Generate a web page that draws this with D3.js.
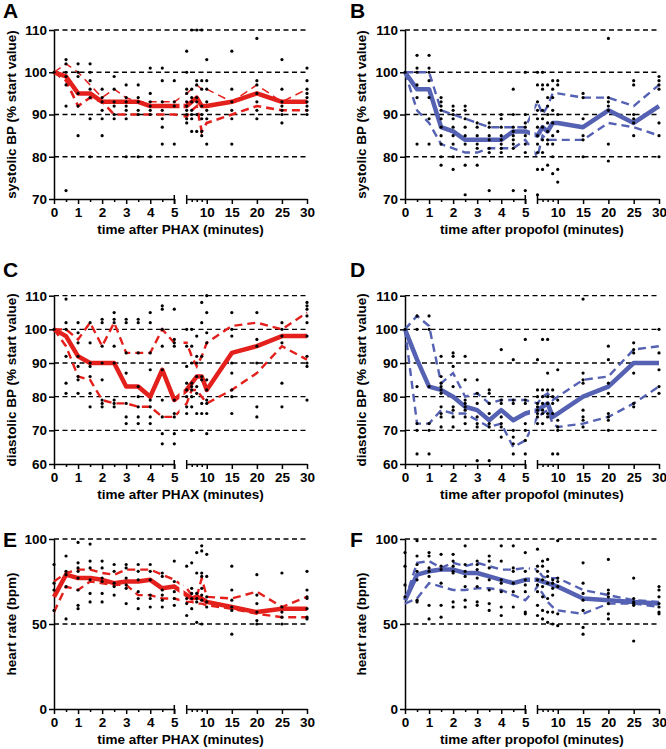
<!DOCTYPE html>
<html><head><meta charset="utf-8">
<script src="https://cdn.jsdelivr.net/npm/d3@7"></script>
<style>body{margin:0;background:#fff} text{font-family:"Liberation Sans",Arial,sans-serif;font-weight:bold;fill:#000}</style>
</head><body><svg id="c" width="666" height="749"></svg>
<script>
// ---------------- DATA ----------------
const times = [0,0.5,1,1.5,2,2.5,3,3.5,4,4.5,5,6,7,8,9,10,15,20,25,30];
const seg1Ticks = [0,1,2,3,4,5];
const seg1Minor = [0.5,1.5,2.5,3.5,4.5];
const seg2Ticks = [10,15,20,25,30];
const seg2Minor = [7,8,9];
const ticksBP1 = [70,80,90,100,110];
const ticksBP2 = [60,70,80,90,100,110];
const ticksHR = [0,50,100];
const gridBP1 = [80,90,100,110];
const gridBP2 = [70,80,90,100,110];
const gridHR = [50,100];
const yTitles = ["systolic BP (% start value)","diastolic BP (% start value)","heart rate (bpm)"];
const xTitles = ["time after PHAX (minutes)","time after propofol (minutes)"];
const letters = ["A","B","C","D","E","F"];

// Panel A: systolic, PHAX
const medA = [100,99,95,95,93,93,93,93,92,92,92,92,93,94,92,92,93,95,93,93];
const upA  = [100,102,100,97,94,96,94,93,93,93,93,95,96,97,96,96,93,97,93,96];
const loA  = [100,98,92,94,93,90,90,90,90,90,90,89.5,91,92,86,88,90,92,91,91];
const dotsA = [[100],[103,102,100,99,97,92,72],[102,100,99,95,92,85],[102,100,98,96,94,89,80],[96,94,93,91,89,85],
 [99,96,93,92,90,89],[97,94,93,92,91,89,80],[97,94,93,91,90,80],[101,95,93,92,91,90,80],[101,98,93,91,89,87,83],
 [98,93,92,83],[105,100,96,95,93,92,91,90,89,88],[110,96,94,93,91,90,89,86],[110,98,97,94,93,90,86],[110,98,96,92,90,89,86,85],
 [103,98,96,93,91,89,83],[105,96,93,91,89,83],[108,98,97,95,93,91,89],[103,96,93,92,91,90,88],[101,98,96,95,94,93,92,91,90]];

// Panel B: systolic, propofol
const medB = [100,96,96,87,86,84,84,84,84,86,86,85,87,86,88,88,87,91,88,92];
const upB  = [100,100,100,91,90,89,88,87,87,87,87,93,90,92,95,95,94,94,92,97];
const loB  = [100,91,88,83,82,81,81,82,82,82,84,80,85,84,84,84,84,88,87,85];
const dotsB = [[100],[104,101,100,97,94,83],[104,101,100,98,94,89,83],[94,93,92,91,89,87,85,83,80,78],[92,91,90,89,87,85,83,80,77],
 [92,91,89,87,85,83,78,71],[88,87,85,83,82,78],[88,87,85,84,82,81,72],[90,89,87,85,84,83,82,81],[96,90,87,86,85,84,83,82,72],
 [100,90,88,87,85,83,81,72],[100,97,93,91,89,87,85,83,81,77,71],[100,97,96,91,89,87,84,81,77],[97,94,92,90,88,86,84,83,78],[98,96,94,91,88,85,83,80,76],
 [98,97,90,86,77,74],[95,94,89,85,84,80],[108,94,93,92,91,83,79],[98,97,90,89,88,85],[99,98,97,96,88,85,80]];

// Panel C: diastolic, PHAX
const medC = [100,98,92,90,90,90,83,83,80,88,79,82,84,86,86,82,93,95,98,98];
const upC  = [100,100,97,102,95,102,93,93,93,100,96,96,92,89,92,96,101,102,100,105];
const loC  = [100,95,86,85,79,78,78,77,77,74,74,78,82,82,80,78,82,87,95,91];
const dotsC = [[100],[109,102,100,92,84,81],[102,99,96,92,89,86,85,81],[102,96,90,89,86,81,77],[103,102,95,90,85,79,78,77],
 [105,103,102,95,90,79,78,77],[103,102,93,87,78,74,72],[103,102,93,83,80,77,74,72],[105,102,93,88,79,77,74,72],[107,106,100,95,88,79,74,69,66],
 [106,97,96,95,79,75,74,69,66],[100,95,89,84,82,80,77,75],[100,95,90,84,83,82,80,77,70],[98,92,90,86,83,81,75],[108,102,92,86,85,78,75],
 [110,105,99,96,85,82,79,78,75,69],[105,100,98,90,87,82,80,75],[105,97,95,90,77,74],[102,100,98,96,84,77],[108,107,106,104,102,98,92,90,89,79]];

// Panel D: diastolic, propofol
const medD = [100,91,83,82,80,77,76,73,76,73,75,76,77,78,74,75,80,83,90,90];
const upD  = [100,104,101,84,87,80,81,78,79,79,79,78,80,81,79,80,85,86,94,95];
const loD  = [100,72,72,76,75,75,73,71,72,65,67,74,75,76,72,71,72,74,78,83];
const dotsD = [[100],[104,100,83,72,70,63],[104,100,83,72,70,63],[92,86,84,83,82,81,77,75,74,71],[93,92,89,83,77,76,74,71],
 [92,85,79,78,77,76,74,72],[85,81,78,74,72,71,61],[82,81,78,75,72,71,61],[94,79,78,74,72,71,68],[91,79,78,70,68,66,63],
 [97,79,78,72,70,67,63],[91,82,80,78,77,76,75,74,72],[97,82,80,78,76,75,72],[97,87,82,80,78,75,74],[82,80,78,75,63],
 [88,79,73,71,70,63],[109,87,85,84,76,74,73,71],[95,91,84,81,75,74,73,70],[96,94,93,87,78,77],[100,93,88,83,81]];

// Panel E: heart rate, PHAX
const medE = [66,79,77,77,76,74,75,75,76,71,72,67,65,66,65,63,60,57,59,59];
const upE  = [75,80,82,82,80,79,82,82,82,79,76,71,67,66,77,66,65,69,60,66];
const loE  = [57,72,70,75,74,73,73,67,67,65,65,63,63,62,62,61,59,56,54,54];
const dotsE = [[85,74,70,58],[90,81,79,72,53],[98,86,83,81,77,70,61,59],[97,87,83,76,68,63],[87,83,77,75,68,63],
 [85,81,74,72,67],[85,83,77,73,71,62],[85,81,76,69,65,59],[85,81,76,67,65,60],[80,78,70,67,64,60],
 [87,75,69,65,61],[84,65,62,55],[86,71,68,65,59],[92,80,68,65,63,51],[96,93,80,78,71,67,64,50],
 [91,78,66,63,60],[84,70,64,60,58,44],[79,67,62,57,52,50],[80,60,57,54,50],[81,70,66,65,59,54,53]];

// Panel F: heart rate, propofol
const medF = [64,79,81,82,82,80,80,78,76,74,76,76,75,74,73,72,65,64,63,62];
const upF  = [64,86,87,83,86,84,86,84,82,82,83,82,78,77,77,77,70,67,64,63];
const loF  = [62,65,74,72,70,70,71,71,70,67,64,72,68,63,60,58,56,62,62,60];
const dotsF = [[92,84,73,66],[99,90,85,81,76,64,63],[92,90,83,81,78,61,53],[91,84,82,74,61,54],[91,87,84,81,80,63,60],
 [96,85,81,78,72,64,60],[87,85,82,77,72,63,61],[90,87,83,76,70,62,58],[96,87,76,74,69,60,55],[96,83,81,74,69,60],
 [92,81,76,73,69,57,56],[94,84,81,76,73,69,61,55],[87,84,76,72,66,58,53],[88,81,78,74,65,57,51],[76,74,71,67,57,50],
 [99,77,75,72,56,49],[86,74,68,64,58,48,44],[88,70,68,66,62,56,53],[77,65,63,62,61,40],[72,70,66,62,60,57,56]];

// ---------------- LAYOUT / STYLE ----------------
const RED = "#e3201c", BLUE = "#5562b3";
const cols = [
  {x0:54, x5:174.3, x6:186.7, x30:307, gap:[179.5,183.5], letterX:3, ytitleX:16},
  {x0:405, x5:525.3, x6:537.5, x30:659, gap:[530,534.5], letterX:350, ytitleX:366}
];
const rows = [
  {yTop:30, yBot:199, letterY:18},
  {yTop:295.7, yBot:464, letterY:277},
  {yTop:539, yBot:709, letterY:547}
];
const panels = [
  {col:0,row:0,med:medA,up:upA,lo:loA,dots:dotsA,dom:[70,110],ticks:ticksBP1,grid:gridBP1,color:RED,upW:1.5,loW:2.6},
  {col:1,row:0,med:medB,up:upB,lo:loB,dots:dotsB,dom:[70,110],ticks:ticksBP1,grid:gridBP1,color:BLUE,upW:2.4,loW:2.4},
  {col:0,row:1,med:medC,up:upC,lo:loC,dots:dotsC,dom:[60,110],ticks:ticksBP2,grid:gridBP2,color:RED,upW:2.4,loW:2.4},
  {col:1,row:1,med:medD,up:upD,lo:loD,dots:dotsD,dom:[60,110],ticks:ticksBP2,grid:gridBP2,color:BLUE,upW:2.4,loW:2.4},
  {col:0,row:2,med:medE,up:upE,lo:loE,dots:dotsE,dom:[0,100],ticks:ticksHR,grid:gridHR,color:RED,upW:2.4,loW:2.4},
  {col:1,row:2,med:medF,up:upF,lo:loF,dots:dotsF,dom:[0,100],ticks:ticksHR,grid:gridHR,color:BLUE,upW:2.4,loW:2.4}
];
const FS = 13.5;
const fmt = d3.format('d');

const svg = d3.select('#c');
const defs = svg.append('defs');

panels.forEach((p,pi) => {
  const C = cols[p.col], R = rows[p.row];
  const x = d3.scaleLinear().domain([0,5,6,30]).range([C.x0,C.x5,C.x6,C.x30]);
  const x1 = d3.scaleLinear().domain([0,5]).range([C.x0,C.x5]);
  const x2 = d3.scaleLinear().domain([6,30]).range([C.x6,C.x30]);
  const y = d3.scaleLinear().domain(p.dom).range([R.yBot,R.yTop]);
  const g = svg.append('g');

  // grid
  g.append('g').selectAll('line').data(p.grid).join('line')
    .attr('x1',C.x0).attr('x2',C.x30).attr('y1',d=>y(d)).attr('y2',d=>y(d))
    .attr('stroke','#000').attr('stroke-width',1.3).attr('stroke-dasharray','5,3.5');

  // axes
  const ya = g.append('g').attr('transform',`translate(${C.x0},0)`)
    .call(d3.axisLeft(y).tickValues(p.ticks).tickFormat(fmt).tickSize(5).tickSizeOuter(0).tickPadding(2));
  const xa1 = g.append('g').attr('transform',`translate(0,${R.yBot})`)
    .call(d3.axisBottom(x1).tickValues(seg1Ticks).tickFormat(fmt).tickSize(5).tickSizeOuter(0).tickPadding(3.5));
  const xm1 = g.append('g').attr('transform',`translate(0,${R.yBot})`)
    .call(d3.axisBottom(x1).tickValues(seg1Minor).tickSize(3).tickFormat(''));
  const xa2 = g.append('g').attr('transform',`translate(0,${R.yBot})`)
    .call(d3.axisBottom(x2).tickValues(seg2Ticks).tickFormat(fmt).tickSize(5).tickSizeOuter(0).tickPadding(3.5));
  const xm2 = g.append('g').attr('transform',`translate(0,${R.yBot})`)
    .call(d3.axisBottom(x2).tickValues(seg2Minor).tickSize(3).tickFormat(''));
  xm1.select('.domain').remove(); xm2.select('.domain').remove();
  [ya,xa1,xm1,xa2,xm2].forEach(a => {
    a.selectAll('path,line').attr('stroke','#000').attr('stroke-width',1.5);
    a.selectAll('text').attr('font-size',FS).attr('fill','#000')
      .attr('font-family','"Liberation Sans",Arial,sans-serif').attr('font-weight','bold');
  });
  // break bars
  g.append('g').selectAll('line').data([x1(5), x2(6)]).join('line')
    .attr('x1',d=>d).attr('x2',d=>d).attr('y1',R.yBot-4).attr('y2',R.yBot+5)
    .attr('stroke','#000').attr('stroke-width',1.5);

  // clip for broken axis gap
  const cid = 'clip'+pi;
  const cp = defs.append('clipPath').attr('id',cid);
  cp.append('rect').attr('x',C.x0-12).attr('y',R.yTop-30).attr('width',C.gap[0]-(C.x0-12)).attr('height',R.yBot-R.yTop+60);
  cp.append('rect').attr('x',C.gap[1]).attr('y',R.yTop-30).attr('width',C.x30+12-C.gap[1]).attr('height',R.yBot-R.yTop+60);

  const line = d3.line().x((d,i)=>x(times[i])).y(d=>y(d));
  const lg = g.append('g').attr('clip-path',`url(#${cid})`);
  lg.append('path').datum(p.lo).attr('d',line).attr('fill','none').attr('stroke',p.color)
    .attr('stroke-width',p.loW).attr('stroke-dasharray','8,5');
  lg.append('path').datum(p.up).attr('d',line).attr('fill','none').attr('stroke',p.color)
    .attr('stroke-width',p.upW).attr('stroke-dasharray','8,5');
  lg.append('path').datum(p.med).attr('d',line).attr('fill','none').attr('stroke',p.color)
    .attr('stroke-width',4.5).attr('stroke-linejoin','round');

  // dots
  const pts = p.dots.flatMap((vals,i)=>vals.map(v=>({t:times[i],v})));
  g.append('g').selectAll('circle').data(pts).join('circle')
    .attr('cx',d=>x(d.t)).attr('cy',d=>y(d.v)).attr('r',1.6).attr('fill','#000');

  // texts
  svg.append('text').attr('x',C.letterX).attr('y',R.letterY).attr('font-size',21).text(letters[pi]);
  svg.append('text').attr('transform',`translate(${C.ytitleX},${(R.yTop+R.yBot)/2}) rotate(-90)`)
    .attr('text-anchor','middle').attr('font-size',FS).text(yTitles[p.row]);
  svg.append('text').attr('x',(C.x0+C.x30)/2).attr('y',R.yBot+35)
    .attr('text-anchor','middle').attr('font-size',FS).text(xTitles[p.col]);
});
</script>
</body></html>
